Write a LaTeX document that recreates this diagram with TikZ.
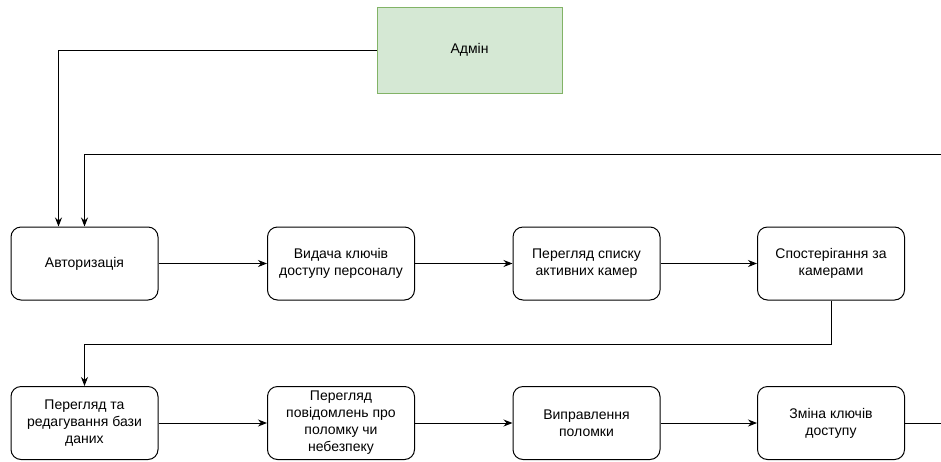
\documentclass[tikz,border=0pt]{standalone}
\usepackage{fontspec}
\setmainfont{Liberation Sans}
\usetikzlibrary{arrows.meta}
\definecolor{admfill}{HTML}{D5E8D4}
\definecolor{admline}{HTML}{82B366}
\begin{document}
\begin{tikzpicture}[x=1pt,y=-1pt,
  box/.style={draw=black, line width=1pt, rounded corners=10pt, minimum width=147pt, minimum height=73pt, align=center, inner sep=2pt, font=\fontsize{14}{17}\selectfont},
  admbox/.style={draw=admline, fill=admfill, line width=1pt, minimum width=185pt, minimum height=86pt, align=center, font=\fontsize{14}{17}\selectfont},
  conn/.style={draw=black, line width=1pt},
  arr/.style={conn, -{Stealth[length=9pt,width=7pt]}}]
\useasboundingbox (0,0) rectangle (941,461);
\node[admbox] (adm) at (469.5,50) {Адмін};
\node[box] (b1) at (84.5,263.5) {Авторизація};
\node[box] (b2) at (341,263.5) {Видача ключів\\доступу персоналу};
\node[box] (b3) at (586.5,263.5) {Перегляд списку\\активних камер};
\node[box] (b4) at (831,263.5) {Спостерігання за\\камерами};
\node[box] (b5) at (84.5,423) {Перегляд та\\редагування бази\\даних};
\node[box] (b6) at (341,423) {Перегляд\\повідомлень про\\поломку чи\\небезпеку};
\node[box] (b7) at (586.5,423) {Виправлення\\поломки};
\node[box] (b8) at (831,423) {Зміна ключів\\доступу};
\coordinate (fb) at (941,154);
\coordinate (out) at (941,423);
\coordinate (turn) at (831,344);
\draw[arr] (adm.west) -| ([xshift=-26pt]b1.north);
\draw[arr] (fb) -| (b1.north);
\draw[arr] (b1) -- (b2);
\draw[arr] (b2) -- (b3);
\draw[arr] (b3) -- (b4);
\draw[arr] (b4.south) -- (turn) -| (b5.north);
\draw[arr] (b5) -- (b6);
\draw[arr] (b6) -- (b7);
\draw[arr] (b7) -- (b8);
\draw[conn] (b8.east) -- (out);
\end{tikzpicture}
\end{document}
